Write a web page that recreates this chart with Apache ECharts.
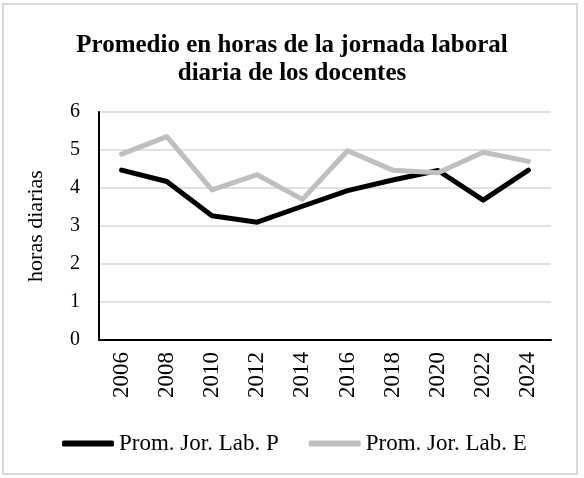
<!DOCTYPE html>
<html>
<head>
<meta charset="utf-8">
<script src="https://cdn.jsdelivr.net/npm/echarts@6/dist/echarts.min.js"></script>
<style>
html,body{margin:0;padding:0;background:#fff;}
#c{width:584px;height:478px;}
</style>
</head>
<body>
<div id="c"></div>
<script>
const years = ['2006','2008','2010','2012','2014','2016','2018','2020','2022','2024'];
const seriesP = [4.47, 4.17, 3.27, 3.10, 3.52, 3.93, 4.21, 4.46, 3.68, 4.47];
const seriesE = [4.89, 5.35, 3.95, 4.35, 3.70, 4.98, 4.47, 4.40, 4.94, 4.70];
const nameP = 'Prom. Jor. Lab. P';
const nameE = 'Prom. Jor. Lab. E';
const yTicks = [0, 6, 1];

const font = '"Liberation Serif", "Times New Roman", serif';
const chart = echarts.init(document.getElementById('c'), null, {renderer: 'canvas'});
chart.setOption({
  animation: false,
  backgroundColor: '#fff',
  textStyle: {fontFamily: font},
  title: {
    text: 'Promedio en horas de la jornada laboral\ndiaria de los docentes',
    left: 'center',
    top: 27,
    textStyle: {fontFamily: font, fontWeight: 'bold', fontSize: 25, lineHeight: 28, color: '#000'}
  },
  graphic: [{
    type: 'rect',
    shape: {x: 3, y: 4, width: 574, height: 470},
    style: {fill: 'none', stroke: '#d9d9d9', lineWidth: 2},
    silent: true
  }],
  legend: {
    left: 57,
    top: 427,
    itemWidth: 52,
    itemHeight: 6,
    itemGap: 30,
    icon: 'roundRect',
    textStyle: {fontFamily: font, fontSize: 23, color: '#000'},
    data: [nameP, nameE]
  },
  grid: {left: 99, right: 33, top: 112, bottom: 138, containLabel: false},
  xAxis: {
    type: 'category',
    data: years,
    boundaryGap: true,
    axisLine: {lineStyle: {color: '#000', width: 2}},
    axisTick: {show: false},
    axisLabel: {rotate: 90, margin: 12, fontFamily: font, fontSize: 23, color: '#000'}
  },
  yAxis: {
    type: 'value',
    min: yTicks[0], max: yTicks[1], interval: yTicks[2],
    name: 'horas diarias',
    nameLocation: 'middle',
    nameGap: 52,
    nameTextStyle: {fontFamily: font, fontSize: 22, color: '#000'},
    axisLine: {show: true, lineStyle: {color: '#000', width: 2}},
    axisTick: {show: false},
    axisLabel: {margin: 19, fontFamily: font, fontSize: 20, color: '#000'},
    splitLine: {lineStyle: {color: '#d9d9d9', width: 1.5}}
  },
  series: [
    {name: nameP, type: 'line', data: seriesP, symbol: 'none', color: '#000',
     lineStyle: {color: '#000', width: 5, cap: 'round', join: 'round'}},
    {name: nameE, type: 'line', data: seriesE, symbol: 'none', color: '#bfbfbf',
     lineStyle: {color: '#bfbfbf', width: 5, cap: 'round', join: 'round'}}
  ]
});
</script>
</body>
</html>
